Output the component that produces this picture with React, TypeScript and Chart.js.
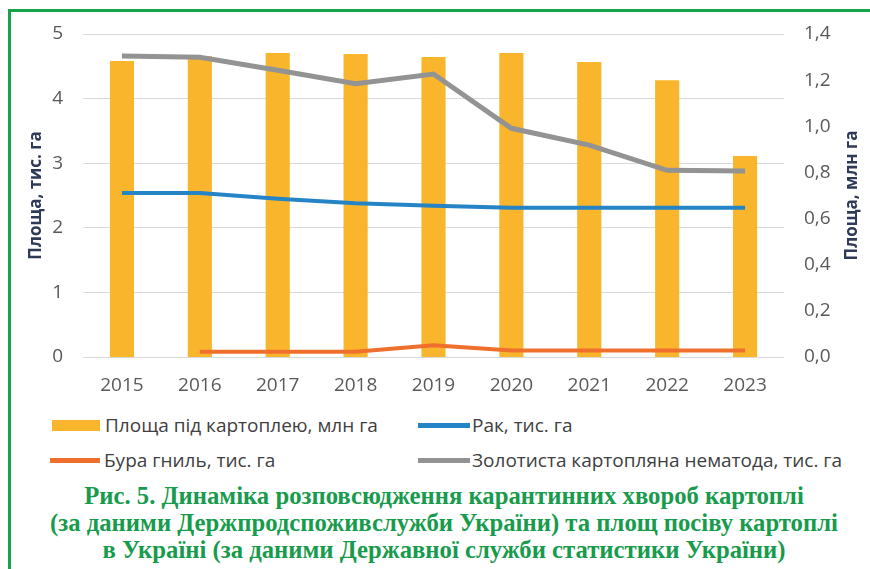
import { useEffect, useRef } from 'react';
import { Chart, registerables } from 'chart.js';

Chart.register(...registerables);

// ---- Data ----
const years = ['2015', '2016', '2017', '2018', '2019', '2020', '2021', '2022', '2023'];
const potatoArea = [1.283, 1.305, 1.318, 1.313, 1.3, 1.318, 1.279, 1.2, 0.871]; // млн га (right axis)
const cancer = [2.54, 2.54, 2.45, 2.38, 2.34, 2.31, 2.31, 2.31, 2.31]; // тис. га
const brownRot = [null, 0.08, 0.08, 0.08, 0.18, 0.1, 0.1, 0.1, 0.1]; // тис. га
const nematode = [4.66, 4.64, 4.44, 4.23, 4.38, 3.54, 3.28, 2.89, 2.88]; // тис. га

const seriesLabels = [
  'Площа під картоплею, млн га',
  'Рак, тис. га',
  'Бура гниль, тис. га',
  'Золотиста картопляна нематода, тис. га',
];
const leftTitle = 'Площа, тис. га';
const rightTitle = 'Площа, млн га';
const captionLines = [
  'Рис. 5. Динаміка розповсюдження карантинних хвороб картоплі',
  '(за даними Держпродспоживслужби України) та площ посіву картоплі',
  'в Україні (за даними Державної служби статистики України)',
];

const COLORS = {
  bar: '#F9B52C',
  blue: '#2584C6',
  orange: '#EF6F2C',
  gray: '#939393',
  tick: '#595959',
  title: '#2E3A56',
  legend: '#404040',
  green: '#16A34A',
  caption: '#179B4C',
};

const FONT = '"Open Sans", "Noto Sans", sans-serif';

const rightTitlePlugin = {
  id: 'rightTitle',
  afterDraw(chart: any) {
    const { ctx, chartArea } = chart;
    const y1 = chart.scales.y1;
    ctx.save();
    ctx.translate(y1.right - 18, (chartArea.top + chartArea.bottom) / 2);
    ctx.rotate(-Math.PI / 2);
    ctx.font = `bold 17px ${FONT}`;
    ctx.fillStyle = COLORS.title;
    ctx.textAlign = 'center';
    ctx.textBaseline = 'middle';
    ctx.fillText(rightTitle, 0, 0);
    ctx.restore();
  },
};

function ChartCanvas() {
  const ref = useRef<HTMLCanvasElement | null>(null);
  useEffect(() => {
    if (!ref.current) return;
    const chart = new Chart(ref.current, {
      type: 'bar',
      data: {
        labels: years,
        datasets: [
          {
            type: 'line',
            label: seriesLabels[3],
            data: nematode,
            yAxisID: 'y',
            borderColor: COLORS.gray,
            backgroundColor: COLORS.gray,
            borderWidth: 5,
            pointRadius: 0,
            tension: 0,
            order: 1,
          },
          {
            type: 'line',
            label: seriesLabels[1],
            data: cancer,
            yAxisID: 'y',
            borderColor: COLORS.blue,
            backgroundColor: COLORS.blue,
            borderWidth: 4,
            pointRadius: 0,
            tension: 0,
            order: 2,
          },
          {
            type: 'line',
            label: seriesLabels[2],
            data: brownRot,
            yAxisID: 'y',
            borderColor: COLORS.orange,
            backgroundColor: COLORS.orange,
            borderWidth: 4,
            pointRadius: 0,
            tension: 0,
            order: 3,
          },
          {
            type: 'bar',
            label: seriesLabels[0],
            data: potatoArea,
            yAxisID: 'y1',
            backgroundColor: COLORS.bar,
            barPercentage: 0.31,
            categoryPercentage: 1,
            order: 10,
          },
        ],
      } as any,
      options: {
        animation: false,
        responsive: false,
        layout: { padding: { top: 34, left: 0, right: 0, bottom: 0 } },
        plugins: {
          legend: { display: false },
          tooltip: { enabled: false },
        },
        scales: {
          x: {
            grid: { display: false, drawTicks: false },
            border: { display: false },
            ticks: { font: { family: FONT, size: 19 }, color: COLORS.tick, padding: 17 },
            afterFit: (s: any) => {
              s.height = 43;
            },
          },
          y: {
            position: 'left',
            min: 0,
            max: 5,
            ticks: {
              stepSize: 1,
              font: { family: FONT, size: 19 },
              color: COLORS.tick,
              padding: 20,
            },
            grid: { color: '#D9D9D9', drawTicks: false, lineWidth: 1 },
            border: { display: false },
            title: {
              display: true,
              text: leftTitle,
              font: { family: FONT, size: 17, weight: 'bold' },
              color: COLORS.title,
              padding: { top: 26, bottom: 0 },
            },
            afterFit: (s: any) => {
              s.width = 83;
            },
          },
          y1: {
            position: 'right',
            min: 0,
            max: 1.4,
            ticks: {
              stepSize: 0.2,
              font: { family: FONT, size: 19 },
              color: COLORS.tick,
              padding: 20,
              callback: (v: any) => Number(v).toFixed(1).replace('.', ','),
            },
            grid: { display: false, drawTicks: false },
            border: { display: false },
            afterFit: (s: any) => {
              s.width = 86;
            },
          },
        },
      } as any,
      plugins: [rightTitlePlugin],
    });
    return () => chart.destroy();
  }, []);
  return <canvas ref={ref} width={870} height={400} style={{ position: 'absolute', left: 0, top: 0 }} />;
}

function LegendItem(props: { left: number; cy: number; swatch: 'box' | 'line'; color: string; label: string; textLeft: number; swW: number }) {
  const { left, cy, swatch, color, label, textLeft, swW } = props;
  const h = swatch === 'box' ? 11 : 5;
  return (
    <>
      <div style={{ position: 'absolute', left, top: cy - h / 2, width: swW, height: h, background: color }} />
      <div
        style={{
          position: 'absolute',
          left: textLeft,
          top: cy - 13,
          height: 26,
          lineHeight: '26px',
          fontFamily: FONT,
          fontSize: 19,
          color: COLORS.legend,
          whiteSpace: 'nowrap',
        }}
      >
        {label}
      </div>
    </>
  );
}

export default function App() {
  return (
    <div
      style={{
        position: 'fixed',
        left: 0,
        top: 0,
        width: 870,
        height: 569,
        background: '#fff',
        overflow: 'hidden',
      }}
    >
      <div
        style={{
          position: 'absolute',
          left: 8,
          top: 9,
          width: 870,
          height: 569,
          borderLeft: `3px solid ${COLORS.green}`,
          borderTop: `3px solid ${COLORS.green}`,
        }}
      />
      <ChartCanvas />
      <LegendItem left={52} cy={425} swatch="box" color={COLORS.bar} label={seriesLabels[0]} textLeft={105} swW={48} />
      <LegendItem left={418} cy={425} swatch="line" color={COLORS.blue} label={seriesLabels[1]} textLeft={472} swW={52} />
      <LegendItem left={50} cy={460} swatch="line" color={COLORS.orange} label={seriesLabels[2]} textLeft={104} swW={50} />
      <LegendItem left={418} cy={460} swatch="line" color={COLORS.gray} label={seriesLabels[3]} textLeft={472} swW={52} />
      <div
        style={{
          position: 'absolute',
          left: 0,
          top: 482,
          width: 888,
          textAlign: 'center',
          fontFamily: '"Liberation Serif", "DejaVu Serif", serif',
          fontWeight: 'bold',
          fontSize: 26,
          lineHeight: '27px',
          color: COLORS.caption,
          transform: 'scaleX(0.95)',
          transformOrigin: '444px 0',
        }}
      >
        {captionLines.map((l, i) => (
          <div key={i}>{l}</div>
        ))}
      </div>
    </div>
  );
}
